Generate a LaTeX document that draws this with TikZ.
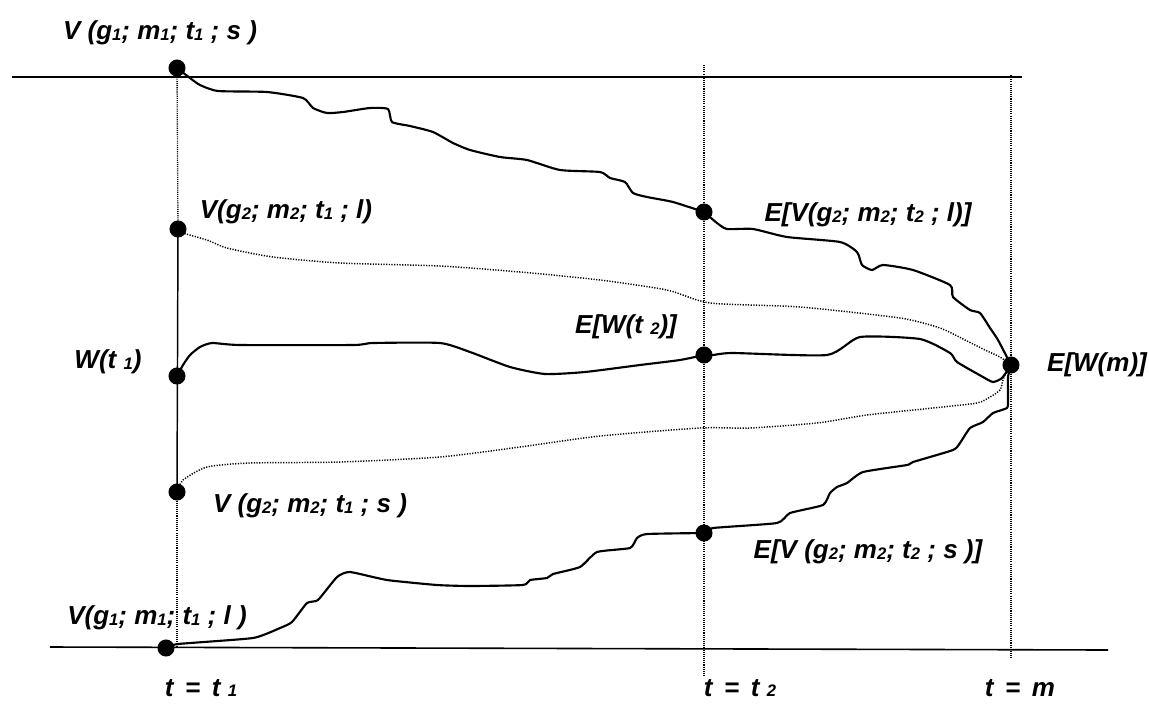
\documentclass[tikz,border=0pt]{standalone}
\usepackage{fontspec}
\setmainfont{Liberation Sans}
\newcommand\sbx[1]{{\fontsize{12.5}{12.5}\selectfont\raisebox{-0.7pt}{#1}}}
\begin{document}
\begin{tikzpicture}[x=0.75pt,y=-0.75pt,
  dotn/.style={circle, fill=black, inner sep=0pt, minimum size=12.8pt},
  lbl/.style={font=\fontsize{19.5}{22}\selectfont\bfseries\itshape, inner sep=0pt},
  axis/.style={line width=1.2pt},
  curve/.style={line width=1.6pt, line join=round, line cap=round},
  fine/.style={line width=1.1pt, dash pattern=on 0.9pt off 1.1pt},
  vfine/.style={line width=1.0pt, dash pattern=on 0.8pt off 0.8pt}]
\useasboundingbox (0,0) rectangle (1149,704);
% reference coordinates
\coordinate (hl1) at (12,77);
\coordinate (hr1) at (1022,77);
\coordinate (hl2) at (50,647);
\coordinate (hr2) at (1108,650);
\coordinate (t1b) at (177,646);
\coordinate (t2t) at (704,65);
\coordinate (t2b) at (704,676);
\coordinate (mt) at (1011,75);
\coordinate (mb) at (1011,659);
% horizontal lines
\draw[axis] (hl1) -- (hr1);
\draw[axis] (hl2) -- (hr2);
% dots
\node[dotn] (V1s) at (177,68) {};
\node[dotn] (V2l) at (178,229) {};
\node[dotn] (W1) at (177,376) {};
\node[dotn] (V2s) at (177,492) {};
\node[dotn] (V1l) at (166,648) {};
\node[dotn] (EV2l) at (704,212) {};
\node[dotn] (EW2) at (704,355) {};
\node[dotn] (EV2s) at (704,533) {};
\node[dotn] (EWm) at (1011,365) {};
% verticals
\draw[vfine] (V1s.center) -- (V2l.center);
\draw[line width=1.1pt] (V2l.center) -- (V2s.center);
\draw[vfine] (V2s.center) -- (t1b);
\draw[vfine] (t2t) -- (t2b);
\draw[vfine] (mt) -- (mb);
% top curve
\draw[curve] plot[smooth, tension=0.35] coordinates {(V1s) (190,78) (200,85) (218,91) (267,92) (303,98) (313,108) (327,113) (343,112) (370,108) (388,109) (392,122) (410,126) (433,132) (453,143) (470,150) (500,157) (527,160) (560,170) (600,172) (610,178) (625,182) (633,193) (647,197) (673,202) (EV2l)};
\draw[curve] plot[smooth, tension=0.35] coordinates {(EV2l) (717,223) (727,229) (753,229) (787,237) (840,242) (857,252) (862,265) (872,270) (883,265) (913,270) (950,285) (953,297) (970,310) (980,313) (990,328) (998,340) (EWm)};
% middle curve
\draw[curve] plot[smooth, tension=0.35] coordinates {(W1) (183,365) (190,355) (200,347) (212,343) (240,345) (353,345) (373,343) (440,343) (470,352) (510,367) (545,374) (585,372) (640,365) (680,360) (EW2)};
\draw[curve] plot[smooth, tension=0.35] coordinates {(EW2) (713,355) (733,353) (827,355) (860,337) (920,339) (950,353) (957,362) (983,377) (993,382) (1002,378) (EWm)};
% upper dotted
\draw[fine] plot[smooth, tension=0.4] coordinates {(V2l) (183,233) (207,240) (227,248) (273,257) (340,263) (440,266) (520,272) (600,280) (667,290) (710,303) (800,307) (900,318) (940,328) (967,341) (985,350) (1000,357) (EWm)};
% lower dotted
\draw[fine] plot[smooth, tension=0.4] coordinates {(V2s) (183,480) (207,467) (250,463) (340,462) (440,457) (520,447) (600,436) (700,428) (750,428) (817,423) (867,415) (933,408) (977,403) (990,397) (1000,390) (1003,380) (1005,375) (EWm)};
% bottom curve
\draw[curve] plot[smooth, tension=0.3] coordinates {(V1l) (178,644) (253,638) (280,628) (292,622) (307,603) (318,600) (337,577) (350,572) (387,580) (437,585) (470,586) (523,585) (530,580) (547,578) (553,574) (580,567) (597,552) (630,548) (637,538) (647,534) (EV2s)};
\draw[curve] plot[smooth, tension=0.3] coordinates {(EV2s) (713,528) (777,523) (790,513) (823,505) (830,493) (837,487) (847,483) (863,472) (907,465) (913,462) (953,450) (960,443) (970,428) (983,422) (993,413) (1007,408) (1008,400) (1008,377) (EWm)};
% labels
\node[lbl] (L1) at (160,33) {V (g\sbx{1}; m\sbx{1}; t\sbx{1} ; s )};
\node[lbl] (L2) at (286,212) {V(g\sbx{2}; m\sbx{2}; t\sbx{1} ; l)};
\node[lbl] (L3) at (108,362) {W(t \sbx{1})};
\node[lbl] (L4) at (310,506) {V (g\sbx{2}; m\sbx{2}; t\sbx{1} ; s )};
\node[lbl] (L5) at (157,618) {V(g\sbx{1}; m\sbx{1}; t\sbx{1} ; l )};
\node[lbl] (L6) at (868,215) {E[V(g\sbx{2}; m\sbx{2}; t\sbx{2} ; l)]};
\node[lbl] (L7) at (626,327) {E[W(t \sbx{2})]};
\node[lbl] (L8) at (1097,365) {E[W(m)]};
\node[lbl] (L9) at (868,552) {E[V (g\sbx{2}; m\sbx{2}; t\sbx{2} ; s )]};
\node[lbl] (B1) at (201,688) {t \,=\, t \sbx{1}};
\node[lbl] (B2) at (740,688) {t \,=\, t \sbx{2}};
\node[lbl] (B3) at (1020,688) {t \,=\, m};
\end{tikzpicture}
\end{document}
